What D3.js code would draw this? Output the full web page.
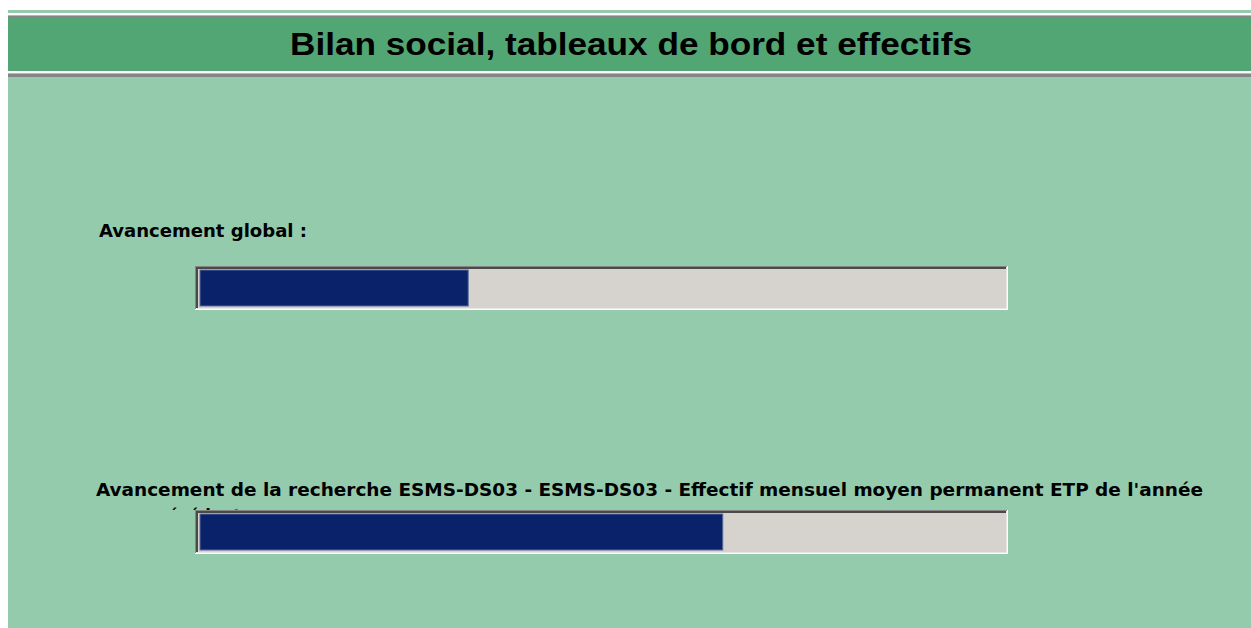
<!DOCTYPE html>
<html>
<head>
<meta charset="utf-8">
<script src="https://cdn.jsdelivr.net/npm/d3@7"></script>
<style>
  html, body { margin: 0; padding: 0; background: #fff; }
  svg { display: block; }
</style>
</head>
<body>
<svg id="chart"></svg>
<script>
// data
const title = 'Bilan social, tableaux de bord et effectifs'
const labels = [
  'Avancement global :',
  'Avancement de la recherche ESMS-DS03 - ESMS-DS03 - Effectif mensuel moyen permanent ETP de l\'année'
]
const labelWrap = ['', 'précédente']
const progress = [33.4, 65.1]   // percent done

const W = 1251, H = 628
const svg = d3.select('#chart').attr('width', W).attr('height', H)

// panel + header bands
const px = 8
svg.append('rect').attr('x', px).attr('y', 10).attr('width', W - px).attr('height', H - 10).attr('fill', '#94cbac')
svg.append('rect').attr('x', px).attr('y', 13).attr('width', W - px).attr('height', 2).attr('fill', '#ffffff')
svg.append('rect').attr('x', px).attr('y', 16).attr('width', W - px).attr('height', 2).attr('fill', '#858585')
svg.append('rect').attr('x', px).attr('y', 18).attr('width', W - px).attr('height', 53).attr('fill', '#52a673')
svg.append('rect').attr('x', px).attr('y', 71).attr('width', W - px).attr('height', 2).attr('fill', '#ffffff')
svg.append('rect').attr('x', px).attr('y', 74).attr('width', W - px).attr('height', 3).attr('fill', '#858585')

svg.append('text')
  .attr('x', 631).attr('y', 55)
  .attr('text-anchor', 'middle')
  .attr('font-family', 'Liberation Sans, Arial, sans-serif')
  .attr('font-weight', 'bold')
  .attr('font-size', 31)
  .attr('textLength', 682).attr('lengthAdjust', 'spacingAndGlyphs')
  .attr('fill', '#000')
  .text(title)

// scales
const x = d3.scaleLinear().domain([0, 100]).range([200, 1003])
const y = d3.scalePoint().domain(labels).range([266, 510])
const barH = 44
const labelFont = 'DejaVu Sans Condensed, Liberation Sans Narrow, Liberation Sans, sans-serif'
const labelX = [99, 96]
const labelDy = [29, 14]
const labelLen = [208, 1107]

// label box is clipped at the bar top, so the wrapped line barely shows
svg.append('clipPath').attr('id', 'lblclip')
  .append('rect').attr('x', 0).attr('y', 0).attr('width', W).attr('height', y(labels[1]))

const g = svg.selectAll('.bar').data(labels).join('g').attr('class', 'bar')

g.append('text')
  .attr('clip-path', 'url(#lblclip)')
  .attr('x', 148)
  .attr('y', (d, i) => y(d) - labelDy[i] + 26)
  .attr('font-family', labelFont).attr('font-weight', 'bold').attr('font-size', 18)
  .attr('fill', '#000')
  .text((d, i) => labelWrap[i])

g.append('text')
  .attr('x', (d, i) => labelX[i])
  .attr('y', (d, i) => y(d) - labelDy[i])
  .attr('font-family', labelFont).attr('font-weight', 'bold').attr('font-size', 18)
  .attr('textLength', (d, i) => labelLen[i]).attr('lengthAdjust', 'spacingAndGlyphs')
  .attr('fill', '#000')
  .text(d => d)

// sunken frame
const fx0 = 195, fx1 = 1008
g.append('rect').attr('x', fx0).attr('y', d => y(d)).attr('width', fx1 - fx0).attr('height', barH).attr('fill', '#ffffff')
g.append('rect').attr('x', fx0).attr('y', d => y(d)).attr('width', fx1 - fx0 - 1).attr('height', barH - 1).attr('fill', '#858585')
g.append('rect').attr('x', fx0 + 1).attr('y', d => y(d) + 1).attr('width', fx1 - fx0 - 2).attr('height', barH - 2).attr('fill', '#e9e7e3')
g.append('rect').attr('x', fx0 + 1).attr('y', d => y(d) + 1).attr('width', fx1 - fx0 - 3).attr('height', barH - 3).attr('fill', '#4a4a4a')
g.append('rect').attr('x', fx0 + 3).attr('y', d => y(d) + 3).attr('width', fx1 - fx0 - 5).attr('height', barH - 5).attr('fill', '#d6d3cf')

// progress fill
g.append('rect')
  .attr('x', x(0))
  .attr('y', d => y(d) + 4)
  .attr('width', (d, i) => x(progress[i]) - x(0))
  .attr('height', barH - 8)
  .attr('fill', '#0a226a')
  .attr('stroke', '#5a6a9a').attr('stroke-width', 1)
</script>
</body>
</html>
